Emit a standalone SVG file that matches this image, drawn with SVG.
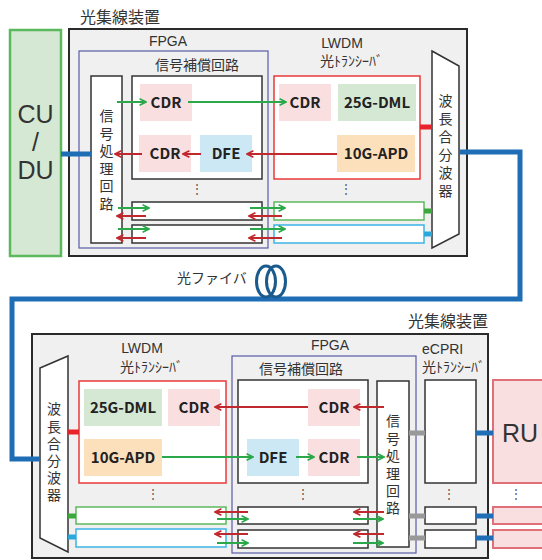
<svg xmlns="http://www.w3.org/2000/svg" width="542" height="560" viewBox="0 0 542 560">
<defs>
<marker id="ag" viewBox="0 0 10 10" refX="9" refY="5" markerWidth="8" markerHeight="8" markerUnits="userSpaceOnUse" orient="auto"><path d="M1,1 L9,5 L1,9" fill="none" stroke="#2aa84a" stroke-width="2"/></marker>
<marker id="ar" viewBox="0 0 10 10" refX="9" refY="5" markerWidth="8" markerHeight="8" markerUnits="userSpaceOnUse" orient="auto"><path d="M1,1 L9,5 L1,9" fill="none" stroke="#c0282d" stroke-width="2"/></marker>
</defs>
<style>
text{font-family:"Noto Sans CJK JP","Noto Sans",sans-serif;fill:#333}
.t{font-size:14px}
.lat{font-family:"Liberation Sans",Arial,sans-serif;font-size:14px}
.v{font-size:14px;writing-mode:vertical-rl}
.ti{font-size:16px}
.big{font-family:"Liberation Sans",Arial,sans-serif;font-size:25px;text-anchor:middle}
.b{font-size:15px;font-weight:bold;fill:#222;text-anchor:middle}
.dev{fill:#f0f0f0;stroke:#2a2a2a;stroke-width:2}
.fp{fill:none;stroke:#5a5aa8;stroke-width:1.2}
.wb{fill:#fff;stroke:#333;stroke-width:1.5}
.rb{fill:#fff;stroke:#e8393a;stroke-width:1.5}
.gb{fill:#fff;stroke:#5cb85c;stroke-width:1.5}
.lb{fill:#fff;stroke:#3cb4e5;stroke-width:1.5}
.pk{fill:#f9dfe0}
.gr{fill:#d5e8d4}
.or{fill:#fbe0bb}
.bl{fill:#cce8f4}
.rub{fill:#f9dfe0;stroke:#e07078;stroke-width:2}
.mux{fill:#fff;stroke:#333;stroke-width:1.5}
.g{stroke:#2aa84a;stroke-width:2;fill:none;marker-end:url(#ag)}
.r{stroke:#c0282d;stroke-width:2;fill:none;marker-end:url(#ar)}
.fib{stroke:#1f6db5;stroke-width:5;fill:none}
.coil{fill:none;stroke:#1a5a8c;stroke-width:3}
.dot{fill:#555;font-size:12px;text-anchor:middle}
</style>

<!-- top device -->
<g id="title1"><text class="ti" x="80" y="23">光集線装置</text></g>
<g id="cudu">
<rect x="10" y="30" width="51" height="226" fill="#d5e8d4" stroke="#5cb85c" stroke-width="2.5"/>
<text class="big" x="35.5" y="123">CU</text>
<text class="big" x="35.5" y="151">/</text>
<text class="big" x="35.5" y="179">DU</text>
</g>
<g id="device1">
<rect class="dev" x="69" y="29" width="398" height="227"/>
</g>
<g id="fpga1">
<rect class="fp" x="79" y="51" width="189" height="197"/>
<text class="lat" x="168" y="46" text-anchor="middle">FPGA</text>
<text class="t" x="197" y="70" text-anchor="middle">信号補償回路</text>
</g>
<g id="sig1">
<rect class="wb" x="91" y="76" width="31" height="167"/>
<text class="v" x="106.5" y="109" letter-spacing="3.5">信号処理回路</text>
</g>
<g id="comp1">
<rect class="wb" x="132" y="76" width="130" height="103"/>
<rect class="pk" x="140" y="84" width="52" height="37"/>
<text class="b" x="166" y="108">CDR</text>
<rect class="pk" x="139" y="135" width="52" height="37"/>
<text class="b" x="165" y="159">CDR</text>
<rect class="bl" x="200" y="135" width="52" height="37"/>
<text class="b" x="226" y="159">DFE</text>
<text class="dot" x="197" y="193">⋮</text>
<rect class="wb" x="132" y="202" width="130" height="18"/>
<rect class="wb" x="132" y="225" width="130" height="18"/>
</g>
<g id="lwdm1">
<text class="lat" x="342" y="48" text-anchor="middle">LWDM</text>
<text class="t" x="320" y="66" font-size="13.5">光ﾄﾗﾝｼｰﾊﾞ</text>
<rect class="rb" x="274" y="76" width="146" height="103"/>
<rect class="pk" x="279" y="84" width="52" height="37"/>
<text class="b" x="305" y="108">CDR</text>
<rect class="gr" x="338" y="84" width="78" height="37"/>
<text class="b" x="377" y="108">25G-DML</text>
<rect class="or" x="337" y="135" width="78" height="37"/>
<text class="b" x="376" y="159">10G-APD</text>
<text class="dot" x="346" y="193">⋮</text>
<rect class="gb" x="274" y="202" width="150" height="18"/>
<rect class="lb" x="274" y="225" width="150" height="18"/>
</g>
<g id="mux1">
<path class="mux" d="M432,51 L459,66 L459,234 L432,248 Z"/>
<text class="v" x="445.5" y="94" letter-spacing="4">波長合分波器</text>
</g>

<!-- bottom device -->
<g id="title2"><text class="ti" x="408" y="327">光集線装置</text></g>
<g id="device2">
<rect class="dev" x="32" y="334" width="456" height="224"/>
</g>
<g id="mux2">
<path class="mux" d="M40,368 L68,356 L68,552 L40,538 Z"/>
<text class="v" x="54" y="402" letter-spacing="3.2">波長合分波器</text>
</g>
<g id="lwdm2">
<text class="lat" x="142" y="353" text-anchor="middle">LWDM</text>
<text class="t" x="120" y="372" font-size="13.5">光ﾄﾗﾝｼｰﾊﾞ</text>
<rect class="rb" x="79" y="381" width="147" height="102"/>
<rect class="gr" x="84" y="389" width="78" height="37"/>
<text class="b" x="123" y="413">25G-DML</text>
<rect class="pk" x="168" y="389" width="52" height="37"/>
<text class="b" x="194" y="413">CDR</text>
<rect class="or" x="84" y="439" width="78" height="37"/>
<text class="b" x="123" y="463">10G-APD</text>
<text class="dot" x="153" y="498">⋮</text>
<rect class="gb" x="76" y="507" width="150" height="17"/>
<rect class="lb" x="76" y="529" width="150" height="18"/>
</g>
<g id="fpga2">
<rect class="fp" x="232" y="356" width="184" height="197"/>
<text class="lat" x="330" y="350" text-anchor="middle">FPGA</text>
<text class="t" x="301" y="374" text-anchor="middle">信号補償回路</text>
</g>
<g id="comp2">
<rect class="wb" x="238" y="380" width="130" height="103"/>
<rect class="pk" x="308" y="389" width="52" height="37"/>
<text class="b" x="334" y="413">CDR</text>
<rect class="bl" x="247" y="439" width="52" height="37"/>
<text class="b" x="273" y="463">DFE</text>
<rect class="pk" x="308" y="439" width="52" height="37"/>
<text class="b" x="334" y="463">CDR</text>
<text class="dot" x="303" y="498">⋮</text>
<rect class="wb" x="238" y="507" width="130" height="17"/>
<rect class="wb" x="238" y="530" width="130" height="18"/>
</g>
<g id="sig2">
<rect class="wb" x="377" y="381" width="32" height="166"/>
<text class="v" x="393" y="414" letter-spacing="3.4">信号処理回路</text>
</g>
<g id="ecpri">
<text class="lat" x="422" y="354">eCPRI</text>
<text class="t" x="422" y="372" font-size="13.5">光ﾄﾗﾝｼｰﾊﾞ</text>
<rect class="wb" x="425" y="380" width="51" height="103"/>
<text class="dot" x="449" y="498">⋮</text>
<rect class="wb" x="425" y="507" width="51" height="17"/>
<rect class="wb" x="425" y="530" width="51" height="18"/>
</g>
<g id="ru">
<rect class="rub" x="493" y="380" width="55" height="103"/>
<text class="big" x="520" y="442" font-size="24">RU</text>
<text class="dot" x="516" y="498">⋮</text>
<rect class="rub" x="493" y="507" width="55" height="17"/>
<rect class="rub" x="493" y="530" width="55" height="18"/>
</g>
<g id="fiberlabel">
<text class="t" x="177" y="283">光ファイバ</text>
</g>

<g id="connectors">
<path class="fib" d="M459,152 L520,152 L520,299 L12,299 L12,459 L40,459"/>
<ellipse class="coil" cx="266" cy="281.5" rx="9.5" ry="15.5"/>
<ellipse class="coil" cx="276" cy="281.5" rx="9.5" ry="15.5"/>
<line x1="61" y1="154" x2="91" y2="154" stroke="#1f6db5" stroke-width="5"/>
<line x1="420" y1="127" x2="432" y2="127" stroke="#e8232a" stroke-width="5"/>
<line x1="424" y1="211" x2="432" y2="211" stroke="#3aa83a" stroke-width="5"/>
<line x1="424" y1="234" x2="432" y2="234" stroke="#2aa8dc" stroke-width="5"/>
<line x1="68" y1="432" x2="79" y2="432" stroke="#e8232a" stroke-width="5"/>
<line x1="68" y1="516" x2="76" y2="516" stroke="#3aa83a" stroke-width="5"/>
<line x1="68" y1="537" x2="76" y2="537" stroke="#2aa8dc" stroke-width="5"/>
<line x1="409" y1="433" x2="425" y2="433" stroke="#999" stroke-width="5"/>
<line x1="409" y1="516" x2="425" y2="516" stroke="#999" stroke-width="5"/>
<line x1="409" y1="538" x2="425" y2="538" stroke="#999" stroke-width="5"/>
<line x1="476" y1="433" x2="493" y2="433" stroke="#1f6db5" stroke-width="5"/>
<line x1="476" y1="516" x2="493" y2="516" stroke="#1f6db5" stroke-width="5"/>
<line x1="476" y1="538" x2="493" y2="538" stroke="#1f6db5" stroke-width="5"/>
<line class="g" x1="117" y1="102" x2="146" y2="102"/>
<line class="g" x1="188" y1="102" x2="286" y2="102"/>
<line class="r" x1="337" y1="154" x2="247" y2="154"/>
<line class="r" x1="201" y1="154" x2="183" y2="154"/>
<line class="r" x1="142" y1="154" x2="115" y2="154"/>
<line class="g" x1="118" y1="208" x2="149" y2="208"/>
<line class="r" x1="146" y1="216" x2="117" y2="216"/>
<line class="g" x1="118" y1="229" x2="149" y2="229"/>
<line class="r" x1="146" y1="238" x2="117" y2="238"/>
<line class="g" x1="250" y1="208" x2="285" y2="208"/>
<line class="r" x1="282" y1="216" x2="249" y2="216"/>
<line class="g" x1="250" y1="229" x2="285" y2="229"/>
<line class="r" x1="282" y1="238" x2="249" y2="238"/>
<line class="r" x1="384" y1="407" x2="354" y2="407"/>
<line class="r" x1="308" y1="407" x2="215" y2="407"/>
<line class="g" x1="162" y1="457" x2="253" y2="457"/>
<line class="g" x1="296" y1="457" x2="314" y2="457"/>
<line class="g" x1="357" y1="457" x2="384" y2="457"/>
<line class="r" x1="248" y1="512" x2="215" y2="512"/>
<line class="g" x1="217" y1="519" x2="248" y2="519"/>
<line class="r" x1="248" y1="534" x2="215" y2="534"/>
<line class="g" x1="217" y1="543" x2="248" y2="543"/>
<line class="r" x1="384" y1="512" x2="354" y2="512"/>
<line class="g" x1="353" y1="519" x2="383" y2="519"/>
<line class="r" x1="384" y1="534" x2="354" y2="534"/>
<line class="g" x1="353" y1="543" x2="383" y2="543"/>
</g>
</svg>
